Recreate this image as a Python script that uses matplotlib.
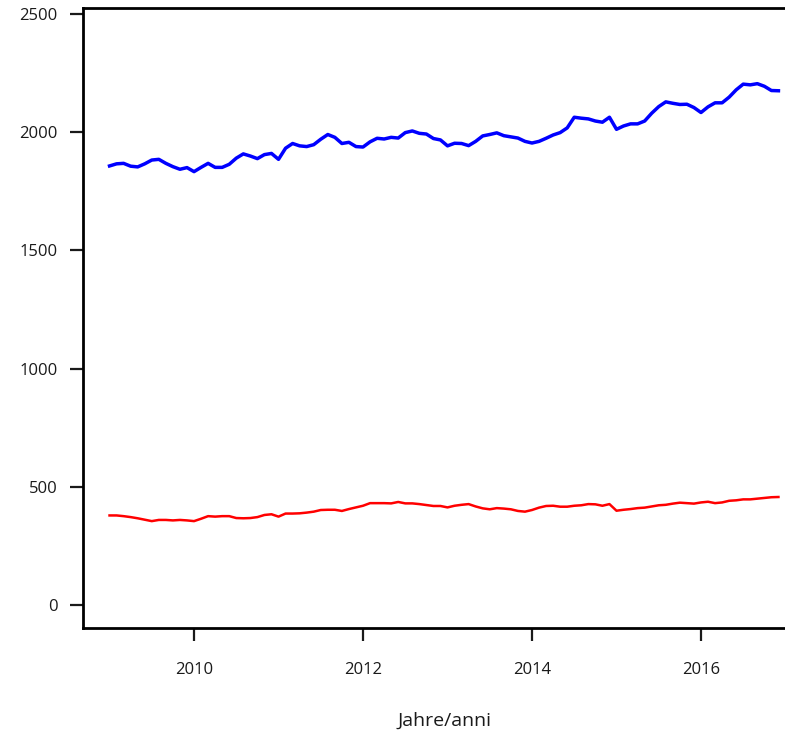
import matplotlib

matplotlib.use("Agg")
import matplotlib.pyplot as plt
import numpy as np

plt.rcParams["font.family"] = ["Open Sans", "DejaVu Sans"]

# monthly values, Jan 2009 - Dec 2016
blue_values = [
    1857, 1866, 1868, 1856, 1853, 1866, 1882, 1885, 1868, 1854, 1843, 1850,
    1833, 1851, 1868, 1851, 1851, 1864, 1890, 1908, 1899, 1888, 1905, 1910,
    1885, 1932, 1952, 1942, 1939, 1947, 1970, 1990, 1978, 1952, 1957, 1939,
    1937, 1959, 1974, 1971, 1978, 1975, 1998, 2005, 1995, 1992, 1973, 1967,
    1942, 1953, 1952, 1943, 1961, 1984, 1990, 1997, 1985, 1980, 1975, 1961,
    1954, 1961, 1974, 1988, 1998, 2018, 2063, 2059, 2056, 2047, 2042, 2063,
    2012, 2026, 2035, 2035, 2047, 2080, 2108, 2128, 2122, 2117, 2118, 2104,
    2083, 2107, 2124, 2124, 2148, 2179, 2203, 2200, 2205, 2194, 2176, 2175,
]
red_values = [
    379, 379, 376, 372, 367, 361, 355, 360, 360, 358, 360, 358,
    355, 365, 376, 374, 376, 376, 368, 367, 368, 372, 381, 384,
    374, 387, 387, 388, 391, 395, 402, 403, 403, 398, 406, 413,
    420, 431, 431, 431, 430, 436, 430, 430, 427, 423, 419, 419,
    413, 420, 424, 427, 417, 409, 405, 410, 408, 405, 398, 395,
    402, 412, 419, 420, 416, 416, 420, 422, 427, 426, 420, 427,
    399, 403, 406, 410, 412, 417, 422, 424, 429, 433, 431, 429,
    434, 437, 431, 434, 441, 443, 447, 447, 450, 453, 456, 457,
]
start_year = 2009
x_ticks = [2010, 2012, 2014, 2016]
y_ticks = [0, 500, 1000, 1500, 2000, 2500]
x_label = "Jahre/anni"

years = start_year + np.arange(len(blue_values)) / 12

fig = plt.figure(figsize=(7.85, 7.34), dpi=100)
# the plot box runs past the right edge of the picture
ax = fig.add_axes([83 / 785, 106 / 734, 722 / 785, 620 / 734])

ax.plot(years, blue_values, color="#0000ff", lw=2.5, solid_joinstyle="round")
ax.plot(years, red_values, color="#ff0000", lw=1.8, solid_joinstyle="round")

ax.set_xlim(2008.686, 2017.231)
ax.set_ylim(-97, 2525)
ax.set_xticks(x_ticks)
ax.set_yticks(y_ticks)

for spine in ax.spines.values():
    spine.set_linewidth(2.0)

ax.tick_params(axis="y", length=9.5, width=1.6, pad=9, labelsize=12, colors="#1a1a1a")
ax.tick_params(axis="x", length=9.5, width=1.6, pad=15, labelsize=12, colors="#1a1a1a")
ax.set_xlabel(x_label, fontsize=14, color="#1a1a1a", labelpad=24)

fig.savefig("out.png", dpi=100)
